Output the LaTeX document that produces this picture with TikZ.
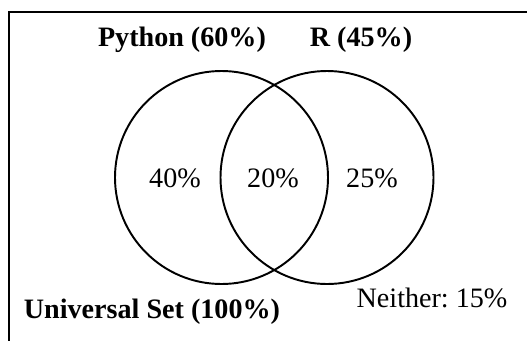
\documentclass[tikz,border=0pt]{standalone}
\usepackage{fontspec}
\setmainfont{Liberation Serif}
\usepackage{tikz}
\usetikzlibrary{positioning}

\begin{document}
\begin{tikzpicture}[line width=1.1pt,
    setlabel/.style={font=\fontsize{16}{19}\selectfont\bfseries},
    regionlabel/.style={font=\fontsize{16}{19}\selectfont}]
    \clip (0, 0) rectangle (10.54, 6.8);
    % universe frame
    \draw (0.18, -1) rectangle (11, 6.56);
    % the two sets
    \draw (4.43, 3.25) circle (2.13);
    \draw (6.54, 3.25) circle (2.13);
    \node[setlabel] (pylabel) at (3.64, 6.0) {Python (60\%)};
    \node[setlabel] (rlabel) at (7.22, 6.0) {R (45\%)};
    \node[regionlabel] (pyonly) at (3.5, 3.24) {40\%};
    \node[regionlabel] (both) at (5.46, 3.24) {20\%};
    \node[regionlabel] (ronly) at (7.44, 3.24) {25\%};
    \node[setlabel] (universe) at (3.04, 0.56) {Universal Set (100\%)};
    \node[regionlabel] (neither) at (8.64, 0.84) {Neither:~15\%};
\end{tikzpicture}
\end{document}
